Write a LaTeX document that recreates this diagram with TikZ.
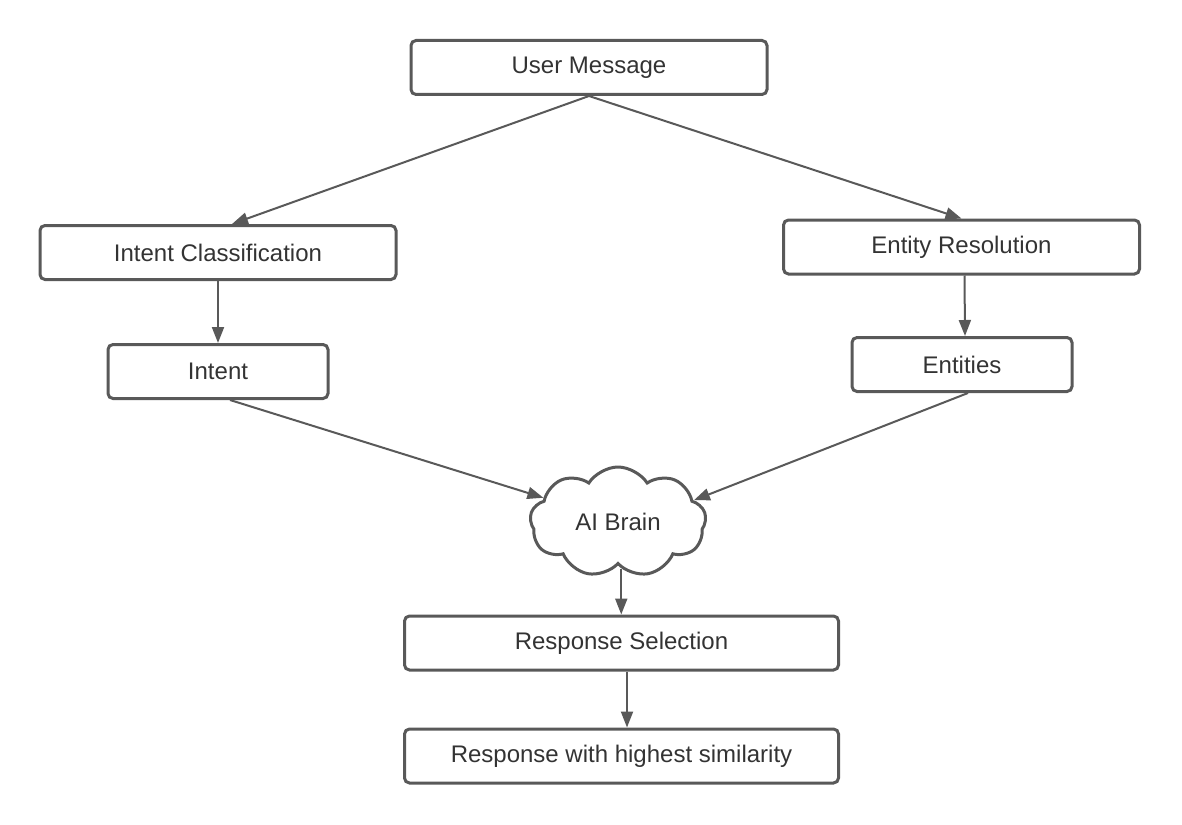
\documentclass[tikz,border=0pt]{standalone}
\usepackage{fontspec}
\setmainfont{Liberation Sans}
\usetikzlibrary{shapes.symbols,arrows.meta}
\definecolor{linegray}{HTML}{595959}
\definecolor{textgray}{HTML}{333333}

\begin{document}
\begin{tikzpicture}[x=0.5pt,y=-0.5pt]
                \useasboundingbox (0,0) rectangle (1182,824);
                \begin{scope}[every node/.style={draw=linegray, line width=1.5pt, rounded corners=2.5pt, text=textgray, font=\fontsize{12}{14}\selectfont, minimum height=27pt, inner sep=0pt}]
                        \node[minimum width=178pt] (UM) at (589,67.5) {User Message};
                        \node[minimum width=178pt] (IC) at (218,252.5) {Intent Classification};
                        \node[minimum width=178pt] (ER) at (961.5,247) {Entity Resolution};
                        \node[minimum width=110pt] (In) at (218,371.5) {Intent};
                        \node[minimum width=110pt] (En) at (962,364.5) {Entities};
                        \node[cloud, cloud puffs=9, cloud puff arc=115, aspect=1.6, minimum width=88pt, minimum height=55pt, rounded corners=0pt] (AI) at (618,522) {AI Brain};
                        \node[minimum width=217pt] (RS) at (621.5,643) {Response Selection};
                        \node[minimum width=217pt] (RH) at (621.5,756) {Response with highest similarity};
                \end{scope}
                \begin{scope}[>={Triangle[length=8pt,width=6pt]}, every edge/.style={draw=linegray, line width=1pt, ->}]
                        \path (UM.south) edge ([xshift=7pt]IC.north);
                        \path (UM.south) edge (ER.north);
                        \path (IC.south) edge (In.north);
                        \path ([xshift=1.5pt]ER.south) edge ([xshift=1.5pt]En.north);
                        \path ([xshift=6pt]In.south) edge (AI.162);
                        \path ([xshift=3pt]En.south) edge (AI.16);
                        \path (AI.-86) edge (AI.-86 |- RS.north);
                        \path ([xshift=2.75pt]RS.south) edge ([xshift=2.75pt]RH.north);
               \end{scope}
\end{tikzpicture}
\end{document}
